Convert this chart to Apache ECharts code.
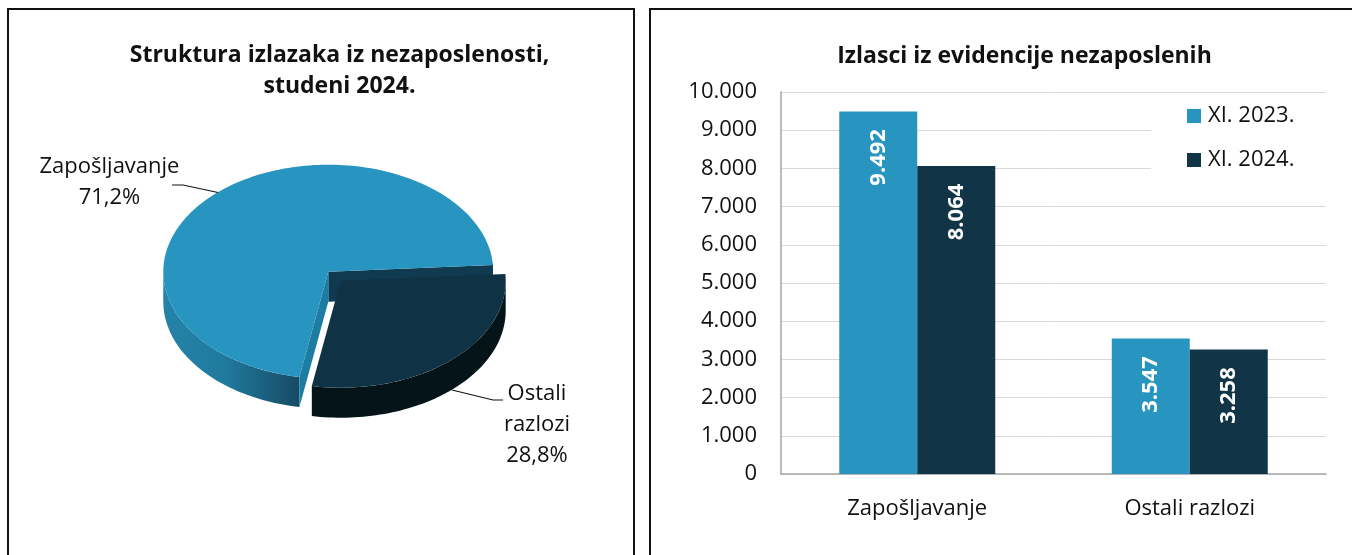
<!DOCTYPE html>
<html><head><meta charset="utf-8">
<style>html,body{margin:0;padding:0;background:#fff}#c{width:1352px;height:555px}</style>
<script src="https://cdn.jsdelivr.net/npm/echarts@6/dist/echarts.min.js"></script>
</head><body><div id="c"></div>
<script>
const pieNames = ['Zapošljavanje\n71,2%', 'Ostali\nrazlozi\n28,8%'];
const pieShares = [71.2, 28.8];
const barCategories = ['Zapošljavanje', 'Ostali razlozi'];
const series2023 = [9492, 3547];
const series2024 = [8064, 3258];
const seriesNames = ['XI. 2023.', 'XI. 2024.'];
const yTickMax = 10000, yTickStep = 1000;

const FONT = '"Open Sans", sans-serif';
const BLUE = '#2895c0', DARK = '#113547', PIE_DARK = '#0f3345';
const pie = { cx: 328.3, cy: 271.7, a: 165, b: 107, depth: 30, startDeg: -3.6, ox: 12.4, oy: 9 };
const pieDecor = [
  { line: [[218, 192.5], [183, 185], [172, 185]], lx: 109.5, ly: 182.5, lh: 31 },
  { line: [[452, 390], [493, 400], [503, 400]], lx: 537, ly: 424.5, lh: 31 }
];

function fmt(v) { return String(v).replace(/\B(?=(\d{3})+$)/g, '.'); }
function pt(t, ox, oy, d) {
  const r = t * Math.PI / 180;
  return [pie.cx + ox + pie.a * Math.cos(r), pie.cy + oy + pie.b * Math.sin(r) + (d || 0)];
}
function arcPts(t0, t1, ox, oy, d) {
  const n = Math.max(2, Math.ceil(Math.abs(t1 - t0) / 1.5)), out = [];
  for (let i = 0; i <= n; i++) out.push(pt(t0 + (t1 - t0) * i / n, ox, oy, d));
  return out;
}
function poly(points, fill) {
  return { type: 'polygon', shape: { points }, style: { fill, stroke: null } };
}
function renderPie(params, api) {
  const total = pieShares.reduce((s, v) => s + v, 0);
  const span = pieShares[1] / total * 360;
  const dStart = pie.startDeg, dEnd = pie.startDeg + span;
  const kids = [];
  const apex = [pie.cx, pie.cy], apexLow = [pie.cx, pie.cy + pie.depth];
  if (params.dataIndex === 0) {
    const wallTop = arcPts(dEnd, 180, 0, 0, 0);
    const wallBot = arcPts(180, dEnd, 0, 0, pie.depth);
    kids.push(poly(wallTop.concat(wallBot), {
      type: 'linear', global: true, x: pie.cx - pie.a, y: 0, x2: pt(dEnd, 0, 0)[0], y2: 0,
      colorStops: [{ offset: 0, color: '#2483a9' }, { offset: 0.45, color: '#207a9e' }, { offset: 1, color: '#174a64' }]
    }));
    const pR = pt(dStart, 0, 0), pB = pt(dEnd, 0, 0);
    kids.push(poly([apex, pR, [pR[0], pR[1] + pie.depth], apexLow], '#0f3a4f'));
    kids.push(poly([apex, pB, [pB[0], pB[1] + pie.depth], apexLow], '#1c7ca2'));
    kids.push(poly([apex].concat(arcPts(dEnd, dStart + 360, 0, 0, 0)), BLUE));
    const d = pieDecor[0];
    kids.push({ type: 'polyline', shape: { points: d.line }, style: { stroke: '#111', lineWidth: 1.2, fill: null } });
    kids.push({ type: 'text', style: { text: pieNames[0], x: d.lx, y: d.ly, align: 'center', verticalAlign: 'middle', font: '22px ' + FONT, lineHeight: d.lh, fill: '#111' } });
  } else {
    const d = pieDecor[1];
    kids.push({ type: 'polyline', shape: { points: d.line }, style: { stroke: '#111', lineWidth: 1.2, fill: null } });
    const wallTop = arcPts(0, dEnd, pie.ox, pie.oy, 0);
    const wallBot = arcPts(dEnd, 0, pie.ox, pie.oy, pie.depth);
    kids.push(poly(wallTop.concat(wallBot), '#041419'));
    kids.push(poly([[pie.cx + pie.ox, pie.cy + pie.oy]].concat(arcPts(dStart, dEnd, pie.ox, pie.oy, 0)), PIE_DARK));
    kids.push({ type: 'text', style: { text: pieNames[1], x: d.lx, y: d.ly, align: 'center', verticalAlign: 'middle', font: '22px ' + FONT, lineHeight: d.lh, fill: '#111' } });
  }
  return { type: 'group', children: kids };
}
const barLabel = {
  show: true, position: ['50%', 46], rotate: 90, align: 'center', verticalAlign: 'middle',
  color: '#fff', fontFamily: FONT, fontWeight: 'bold', fontSize: 22, formatter: p => fmt(p.value)
};
const chart = echarts.init(document.getElementById('c'), null, { renderer: 'canvas' });
chart.setOption({
  animation: false,
  backgroundColor: '#fff',
  title: [
    { text: 'Struktura izlazaka iz nezaposlenosti,\nstudeni 2024.', left: 334.5, top: 34.5, textAlign: 'center',
      textStyle: { fontFamily: FONT, fontWeight: 'bold', fontSize: 23, lineHeight: 31, color: '#111' } },
    { text: 'Izlasci iz evidencije nezaposlenih', left: 1019.5, top: 36, textAlign: 'center',
      textStyle: { fontFamily: FONT, fontWeight: 'bold', fontSize: 23, lineHeight: 31, color: '#111' } }
  ],
  legend: {
    data: seriesNames, orient: 'vertical', left: 1151, top: 97, icon: 'rect',
    itemWidth: 14, itemHeight: 14, itemGap: 22, backgroundColor: '#fff',
    padding: [8, 40, 8, 36], borderRadius: 0,
    textStyle: { fontFamily: FONT, fontSize: 22, color: '#111', padding: [0, 0, 0, 2] }
  },
  grid: { left: 781, top: 92, width: 545, height: 382, containLabel: false },
  xAxis: {
    type: 'category', data: barCategories,
    axisLine: { lineStyle: { color: '#a6a6a6', width: 1.5 } }, axisTick: { show: false },
    axisLabel: { fontFamily: FONT, fontSize: 22, color: '#111', margin: 24 }
  },
  yAxis: {
    type: 'value', min: 0, max: yTickMax, interval: yTickStep,
    axisLine: { show: true, lineStyle: { color: '#a6a6a6', width: 1.5 } }, axisTick: { show: false },
    splitLine: { lineStyle: { color: '#d9d9d9', width: 1 } },
    axisLabel: { fontFamily: FONT, fontSize: 22, color: '#111', margin: 24, padding: [2, 0, 0, 0], formatter: v => fmt(v) }
  },
  series: [
    { type: 'bar', name: seriesNames[0], data: series2023, barWidth: 78, barGap: 0, itemStyle: { color: BLUE }, label: barLabel },
    { type: 'bar', name: seriesNames[1], data: series2024, barWidth: 78, barGap: 0, itemStyle: { color: DARK }, label: barLabel },
    { type: 'custom', coordinateSystem: 'none', data: pieShares, renderItem: renderPie, silent: true }
  ],
  graphic: [
    { type: 'polyline', z: 100, shape: { points: [[8, 560], [8, 9], [634, 9], [634, 560]] }, style: { stroke: '#111', lineWidth: 2, fill: null } },
    { type: 'polyline', z: 100, shape: { points: [[650, 560], [650, 9], [1360, 9]] }, style: { stroke: '#111', lineWidth: 2, fill: null } }
  ]
});
</script></body></html>
